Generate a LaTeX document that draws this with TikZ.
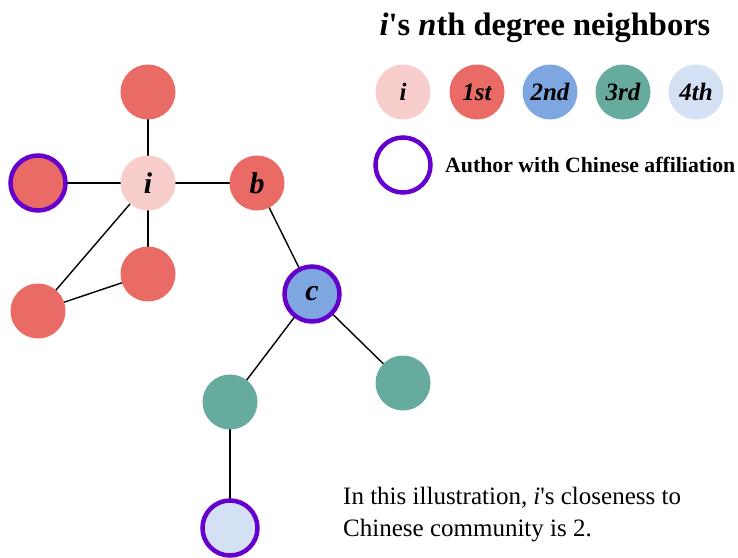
\documentclass[tikz,border=0pt]{standalone}
\usepackage{fontspec}
\setmainfont{Liberation Serif}[Ligatures=TeXOff]
\usetikzlibrary{backgrounds}
\definecolor{cI}{HTML}{F8CECC}
\definecolor{cA}{HTML}{EA6B66}
\definecolor{cB}{HTML}{7EA6E0}
\definecolor{cC}{HTML}{67AB9F}
\definecolor{cD}{HTML}{D4E1F5}
\definecolor{ring}{HTML}{6600CC}
\tikzset{
  vert/.style={circle, minimum size=55pt, inner sep=0pt, font=\fontsize{30}{34}\selectfont\bfseries\itshape},
  ringed/.style={draw=ring, line width=4.5pt, minimum size=55pt},
  lg/.style={circle, minimum size=55pt, inner sep=0pt, font=\fontsize{25}{28}\selectfont\bfseries\itshape},
  edge/.style={line width=1.4pt, black}
}
\begin{document}
\begin{tikzpicture}[x=1pt,y=-1pt]
\useasboundingbox (0,0) rectangle (738,557);
% graph nodes
\node[vert, fill=cA] (top) at (148,92) {};
\node[vert, fill=cI] (i) at (148,183) {i};
\node[vert, fill=cA, ringed] (left) at (38,183) {};
\node[vert, fill=cA] (b) at (257,183) {b};
\node[vert, fill=cA] (lr) at (148,274) {};
\node[vert, fill=cA] (ll) at (38,311) {};
\node[vert, fill=cB, ringed] (c) at (312,294) {c};
\node[vert, fill=cC] (tl) at (230,402) {};
\node[vert, fill=cC] (tr) at (403,383) {};
\node[vert, fill=cD, ringed] (f) at (230,528) {};
\begin{pgfonlayer}{background}
\draw[edge] (top.center) -- (i.center);
\draw[edge] (left.center) -- (i.center);
\draw[edge] (i.center) -- (b.center);
\draw[edge] (i.center) -- (lr.center);
\draw[edge] (i.center) -- (ll.center);
\draw[edge] (ll.center) -- (lr.center);
\draw[edge] (b.center) -- (c.center);
\draw[edge] (c.center) -- (tl.center);
\draw[edge] (c.center) -- (tr.center);
\draw[edge] (tl.center) -- (f.center);
\end{pgfonlayer}
% legend
\node[font=\fontsize{32.5}{36}\selectfont\bfseries] (title) at (545,28) {\textit{i}'s \textit{n}th degree neighbors};
\node[lg, fill=cI] (l0) at (403,92) {i};
\node[lg, fill=cA] (l1) at (477,92) {1st};
\node[lg, fill=cB] (l2) at (550,92) {2nd};
\node[lg, fill=cC] (l3) at (623,92) {3rd};
\node[lg, fill=cD] (l4) at (696,92) {4th};
\node[circle, draw=ring, line width=4.5pt, minimum size=55pt] (lr0) at (403,165) {};
\node[anchor=west, font=\fontsize{21.8}{24}\selectfont\bfseries, inner sep=0pt] (lrt) at (445,165) {Author with Chinese affiliation};
% caption
\node[anchor=north west, align=left, inner sep=0pt, font=\fontsize{25}{32}\selectfont] (cap) at (343,487) {In this illustration, \textit{i}'s closeness to\\Chinese community is 2.};
\end{tikzpicture}
\end{document}
